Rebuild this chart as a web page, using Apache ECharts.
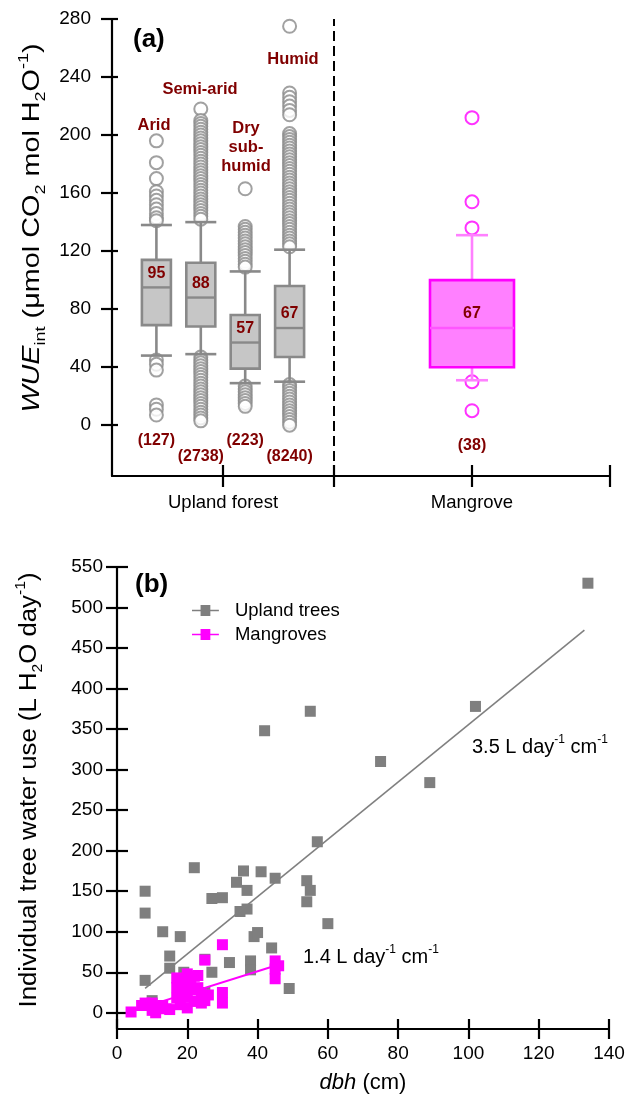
<!DOCTYPE html>
<html><head><meta charset="utf-8">
<script src="https://cdn.jsdelivr.net/npm/echarts@6/dist/echarts.min.js"></script>
<style>html,body{margin:0;padding:0;background:#fff}#c{width:629px;height:1100px}</style>
</head><body><div id="c"></div>
<script>
// ---------- Panel (a) data ----------
const groupNames = ['Arid', 'Semi-arid', 'Dry sub-humid', 'Humid'];
// [lower whisker, Q1, median, Q3, upper whisker]
const groupStats = [
  [48, 69, 95, 114, 138],
  [49, 68, 88, 112, 140],
  [29, 39, 57, 76, 106],
  [30, 47, 67, 96, 121]
];
const groupCounts = [127, 2738, 223, 8240];
const aridOutliers = [196, 181, 170, 161, 158, 155, 152, 149, 146, 143, 141, 45, 42, 38, 14, 11, 7];
const semiAridOutliers = [218, 210, 208, 206, 204, 202, 200, 198, 196, 194, 192, 190, 188, 186, 184, 182, 180, 178, 176, 174, 172, 170, 168, 166, 164, 162, 160, 158, 156, 154, 152, 150, 148, 146, 144, 142,
  47, 45, 43, 41, 39, 37, 35, 33, 31, 29, 27, 25, 23, 21, 19, 17, 15, 13, 11, 9, 7, 5, 3];
const drySubHumidOutliers = [163, 137, 135, 133, 131, 129, 127, 125, 123, 121, 119, 117, 115, 113, 111, 109,
  27, 25, 23, 21, 19, 17, 15, 13];
const humidOutliers = [275, 229, 226, 223, 220, 217, 214, 201, 199, 197, 195, 193, 191, 189, 187, 185, 183, 181, 179, 177, 175, 173, 171, 169, 167, 165, 163, 161, 159, 157, 155, 153, 151, 149, 147, 145, 143, 141, 139, 137, 135, 133, 131, 129, 127, 125, 123,
  28, 26, 24, 22, 20, 18, 16, 14, 12, 10, 8, 6, 4, 2, 0];
const groupOutliers = [aridOutliers, semiAridOutliers, drySubHumidOutliers, humidOutliers];

const mangroveName = 'Mangrove';
const mangroveStats = [31, 40, 67, 100, 131];
const mangroveCount = 38;
const mangroveOutliers = [212, 154, 136, 30, 10];

const sectionLabels = ['Upland forest', 'Mangrove'];
const yTicksA = [0, 40, 80, 120, 160, 200, 240, 280];

// ---------- Panel (b) data ----------
const uplandTrees = [
  [8, 150], [8, 123], [8, 40], [10, 15], [13, 100], [15, 70], [15, 55], [18, 94], [19, 50], [22, 179],
  [25, 66], [25, 25], [27, 50], [27, 141], [30, 142], [32, 62], [34, 161], [35, 125], [36, 175], [37, 151],
  [37, 128], [38, 64], [38, 53], [39, 94], [40, 99], [41, 174], [42, 348], [44, 80], [45, 166], [49, 30],
  [54, 163], [55, 151], [54, 137], [55, 372], [57, 211], [60, 110], [75, 310], [89, 284], [102, 378], [134, 530]
];
const mangroves = [
  [4, 1], [7, 9], [8, 12], [10, 12], [10, 3], [11, 0], [13, 9], [14, 5], [17, 43], [17, 31],
  [17, 18], [18, 33], [20, 48], [20, 36], [20, 19], [20, 6], [21, 40], [22, 28], [23, 46], [23, 31],
  [24, 23], [24, 12], [25, 65], [25, 15], [30, 84], [30, 25], [30, 12], [45, 64], [45, 54], [45, 42],
  [46, 58], [19, 25], [22, 45], [18, 10], [15, 4], [22, 14], [26, 22], [12, 6]
];
const uplandFit = [[8, 30], [133, 472]];
const mangroveFit = [[4, 2], [45, 58]];
const xTicksB = [0, 20, 40, 60, 80, 100, 120, 140];
const yTicksB = [0, 50, 100, 150, 200, 250, 300, 350, 400, 450, 500, 550];
const seriesNamesB = ['Upland trees', 'Mangroves'];
const slopeLabels = ['3.5', '1.4'];

// ---------- styling ----------
const FF = 'Liberation Sans, Arial, sans-serif';
const MAROON = '#800000';
const GRAY = '#898989';
const GRAY_FILL = '#c6c6c6';
const MAG = '#ff00ff';
const MAG_LIGHT = '#ff80ff';

function boxRenderer(opt) {
  return function (params, api) {
    const x = api.value(0);
    const lo = api.coord([x, api.value(1)]);
    const q1 = api.coord([x, api.value(2)]);
    const md = api.coord([x, api.value(3)]);
    const q3 = api.coord([x, api.value(4)]);
    const hi = api.coord([x, api.value(5)]);
    const zero = api.coord([x, 0]);
    const cx = md[0];
    const bw = opt.boxWidth / 2, cw = opt.capWidth / 2;
    const wl = () => ({ stroke: opt.whisker, lineWidth: 2.6 });
    const nOffset = opt.countOffsets[params.dataIndex % opt.countOffsets.length];
    return {
      type: 'group',
      children: [
        { type: 'line', shape: { x1: cx, y1: q3[1], x2: cx, y2: hi[1] }, style: wl() },
        { type: 'line', shape: { x1: cx - cw, y1: hi[1], x2: cx + cw, y2: hi[1] }, style: wl() },
        { type: 'line', shape: { x1: cx, y1: q1[1], x2: cx, y2: lo[1] }, style: wl() },
        { type: 'line', shape: { x1: cx - cw, y1: lo[1], x2: cx + cw, y2: lo[1] }, style: wl() },
        { type: 'rect', shape: { x: cx - bw, y: q3[1], width: 2 * bw, height: q1[1] - q3[1] },
          style: { fill: opt.fill, stroke: opt.stroke, lineWidth: 2.6 } },
        { type: 'line', shape: { x1: cx - bw, y1: md[1], x2: cx + bw, y2: md[1] },
          style: { stroke: opt.median, lineWidth: 2.4 } },
        { type: 'text', style: { text: String(Math.round(api.value(3))), x: cx, y: md[1] - 14,
          align: 'center', verticalAlign: 'middle', fill: MAROON, font: 'bold 16px ' + FF } },
        { type: 'text', style: { text: '(' + api.value(6) + ')', x: cx, y: zero[1] + nOffset,
          align: 'center', verticalAlign: 'middle', fill: MAROON, font: 'bold 16px ' + FF } }
      ]
    };
  };
}

const uplandBoxData = groupStats.map((s, i) => [i + 1].concat(s).concat([groupCounts[i]]));
const mangroveBoxData = [[1].concat(mangroveStats).concat([mangroveCount])];
const uplandOutlierData = [];
groupOutliers.forEach((arr, i) => arr.forEach(v => uplandOutlierData.push([i + 1, v])));
const mangroveOutlierData = mangroveOutliers.map(v => [1, v]);

const axisLineStyle = { color: '#000', width: 2.2 };
function tickAxisPair(base, ticks, labels, lenOut, lenIn, labelOpt) {
  const a = Object.assign({}, base, {
    axisLine: { show: true, onZero: false, lineStyle: axisLineStyle },
    axisTick: { show: true, length: lenOut, lineStyle: axisLineStyle, customValues: ticks },
    axisLabel: Object.assign({ show: true, customValues: labels, color: '#000', fontFamily: FF }, labelOpt),
    splitLine: { show: false }
  });
  const b = Object.assign({}, base, {
    axisLine: { show: false, onZero: false },
    axisTick: { show: true, inside: true, length: lenIn, lineStyle: axisLineStyle, customValues: ticks },
    axisLabel: { show: false },
    splitLine: { show: false }
  });
  return [a, b];
}

const xA1 = tickAxisPair({ type: 'value', gridIndex: 0, min: 0, max: 5, position: 'bottom' }, [2.5, 5], [2.5], 11, 11,
  { fontSize: 18.5, margin: 17, formatter: () => sectionLabels[0] });
const xA2 = tickAxisPair({ type: 'value', gridIndex: 1, min: 0, max: 2, position: 'bottom' }, [1, 2], [1], 11, 11,
  { fontSize: 18.5, margin: 17, formatter: () => sectionLabels[1] });
const yA1 = tickAxisPair({ type: 'value', gridIndex: 0, min: -35, max: 280, position: 'left' }, yTicksA, yTicksA, 11, 6,
  { fontSize: 19, margin: 21 });
const xB = tickAxisPair({ type: 'value', gridIndex: 2, min: 0, max: 140, interval: 20, position: 'bottom' },
  xTicksB, xTicksB, 10, 10, { fontSize: 19, margin: 15 });
const yB = tickAxisPair({ type: 'value', gridIndex: 2, min: -20, max: 550, position: 'left' }, yTicksB, yTicksB, 11, 11,
  { fontSize: 19, margin: 14 });

const legendIcon = 'path://M0,4.3H7V0.5H15V4.3H22V5.7H15V9.5H7V5.7H0Z';

function richSet(size) {
  const lh = Math.round(size * 1.35);
  const small = Math.round(size * 0.62);
  return {
    n: { fontSize: size, fontFamily: FF, lineHeight: lh, color: '#000' },
    it: { fontSize: size, fontFamily: FF, lineHeight: lh, fontStyle: 'italic', color: '#000' },
    sub: { fontSize: small, fontFamily: FF, verticalAlign: 'bottom', color: '#000' },
    sup: { fontSize: small, fontFamily: FF, verticalAlign: 'top', color: '#000' }
  };
}
const catLabel = { fill: MAROON, font: 'bold 16.5px ' + FF, align: 'center', verticalAlign: 'middle', lineHeight: 19 };

const chart = echarts.init(document.getElementById('c'), null, { renderer: 'canvas' });
chart.setOption({
  animation: false,
  backgroundColor: '#fff',
  grid: [
    { left: 112, top: 19, width: 222, height: 457 },
    { left: 334, top: 19, width: 276, height: 457 },
    { left: 117, top: 567, width: 492, height: 462 }
  ],
  xAxis: [xA1[0], xA1[1], xA2[0], xA2[1], xB[0], xB[1]],
  yAxis: [yA1[0], yA1[1], { type: 'value', gridIndex: 1, min: -35, max: 280, show: false, splitLine: { show: false } }, yB[0], yB[1]],
  legend: {
    left: 187, top: 596, orient: 'vertical', itemWidth: 27, itemHeight: 11, itemGap: 5,
    textStyle: { fontSize: 18.5, color: '#000', fontFamily: FF, padding: [0, 0, 0, 11] },
    data: [
      { name: seriesNamesB[0], icon: legendIcon, itemStyle: { color: '#7f7f7f' } },
      { name: seriesNamesB[1], icon: legendIcon, itemStyle: { color: MAG } }
    ]
  },
  series: [
    { type: 'scatter', xAxisIndex: 0, yAxisIndex: 0, data: uplandOutlierData, symbol: 'emptyCircle', symbolSize: 13,
      itemStyle: { color: GRAY, borderColor: GRAY, borderWidth: 1.6 }, silent: true, z: 1 },
    { type: 'custom', xAxisIndex: 0, yAxisIndex: 0, data: uplandBoxData, silent: true, z: 3,
      renderItem: boxRenderer({ boxWidth: 29, capWidth: 31, fill: GRAY_FILL, stroke: GRAY, whisker: GRAY, median: GRAY, countOffsets: [15, 31] }),
      markLine: { silent: true, symbol: 'none', label: { show: false },
        lineStyle: { color: '#000', type: [10, 5], width: 2 }, data: [{ xAxis: 5 }] } },
    { type: 'scatter', xAxisIndex: 2, yAxisIndex: 2, data: mangroveOutlierData, symbol: 'emptyCircle', symbolSize: 13,
      itemStyle: { color: MAG, borderColor: MAG, borderWidth: 1.8 }, silent: true, z: 1 },
    { type: 'custom', xAxisIndex: 2, yAxisIndex: 2, data: mangroveBoxData, silent: true, z: 3,
      renderItem: boxRenderer({ boxWidth: 84, capWidth: 32, fill: MAG_LIGHT, stroke: MAG, whisker: MAG_LIGHT, median: '#ff55ff', countOffsets: [20] }) },
    { name: seriesNamesB[0], type: 'scatter', xAxisIndex: 4, yAxisIndex: 3, data: uplandTrees, symbol: 'rect', symbolSize: 11,
      itemStyle: { color: '#7f7f7f', opacity: 1 } },
    { name: seriesNamesB[1], type: 'scatter', xAxisIndex: 4, yAxisIndex: 3, data: mangroves, symbol: 'rect', symbolSize: 11,
      itemStyle: { color: MAG, opacity: 1 } },
    { type: 'line', xAxisIndex: 4, yAxisIndex: 3, data: uplandFit, showSymbol: false, symbol: 'none',
      lineStyle: { color: '#808080', width: 1.6 }, silent: true },
    { type: 'line', xAxisIndex: 4, yAxisIndex: 3, data: mangroveFit, showSymbol: false, symbol: 'none',
      lineStyle: { color: MAG, width: 2 }, silent: true }
  ],
  graphic: [
    { type: 'text', x: 133, y: 40, style: { text: '(a)', font: 'bold 26px ' + FF, fill: '#000', verticalAlign: 'middle' } },
    { type: 'text', x: 135, y: 585, style: { text: '(b)', font: 'bold 26px ' + FF, fill: '#000', verticalAlign: 'middle' } },
    { type: 'text', x: 154, y: 125, style: Object.assign({ text: groupNames[0] }, catLabel) },
    { type: 'text', x: 200, y: 89, style: Object.assign({ text: groupNames[1] }, catLabel) },
    { type: 'text', x: 246, y: 147, style: Object.assign({ text: 'Dry\nsub-\nhumid' }, catLabel) },
    { type: 'text', x: 293, y: 59, style: Object.assign({ text: groupNames[3] }, catLabel) },
    { type: 'text', x: 32, y: 228, rotation: Math.PI / 2, scaleX: 1.2,
      style: { text: '{it|WUE}{sub|int}{n| (μmol CO}{sub|2}{n| mol H}{sub|2}{n|O}{sup|-1}{n|)}', rich: richSet(24),
        align: 'center', verticalAlign: 'middle' } },
    { type: 'text', x: 30, y: 790, rotation: Math.PI / 2, scaleX: 1.12,
      style: { text: '{n|Individual tree water use (L H}{sub|2}{n|O day}{sup|-1}{n|)}', rich: richSet(23),
        align: 'center', verticalAlign: 'middle' } },
    { type: 'text', x: 363, y: 1083,
      style: { text: '{it|dbh}{n| (cm)}', rich: richSet(22), align: 'center', verticalAlign: 'middle' } },
    { type: 'text', x: 472, y: 747,
      style: { text: '{n|' + slopeLabels[0] + ' L day}{sup|-1}{n| cm}{sup|-1}', rich: richSet(20), align: 'left', verticalAlign: 'middle' } },
    { type: 'text', x: 303, y: 957,
      style: { text: '{n|' + slopeLabels[1] + ' L day}{sup|-1}{n| cm}{sup|-1}', rich: richSet(20), align: 'left', verticalAlign: 'middle' } }
  ]
});
</script>
</body></html>
